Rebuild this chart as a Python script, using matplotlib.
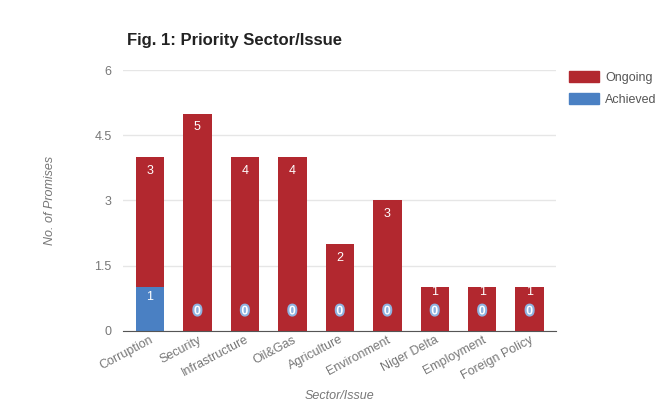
import numpy as np
import matplotlib.pyplot as plt
import matplotlib.patheffects as pe
from matplotlib.patches import Patch

plt.rcParams['font.family'] = ['Liberation Sans', 'DejaVu Sans']

sectors = ['Corruption', 'Security', 'Infrastructure', 'Oil&Gas', 'Agriculture',
           'Environment', 'Niger Delta', 'Employment', 'Foreign Policy']
achieved = [1, 0, 0, 0, 0, 0, 0, 0, 0]
ongoing = [3, 5, 4, 4, 2, 3, 1, 1, 1]

red = '#b2282f'
blue = '#4a80c3'
grey = '#777777'

fig = plt.figure(figsize=(6.68, 4.12), dpi=100)
ax = fig.add_axes([0.184, 0.197, 0.648, 0.633])

x = np.arange(len(sectors))
ax.bar(x, achieved, width=0.6, color=blue, zorder=2)
ax.bar(x, ongoing, width=0.6, bottom=achieved, color=red, zorder=2)

ax.set_xlim(-0.57, 8.55)
ax.set_ylim(0, 6)
ax.set_yticks([0, 1.5, 3, 4.5, 6])
ax.set_yticklabels(['0', '1.5', '3', '4.5', '6'])
ax.grid(axis='y', color='#e6e6e6', lw=1, zorder=0)
for s in ['top', 'right', 'left']:
    ax.spines[s].set_visible(False)
ax.spines['bottom'].set_color('#555555')
ax.tick_params(axis='y', length=0, colors=grey, labelsize=9, pad=8)
ax.tick_params(axis='x', length=0, colors=grey, labelsize=9, pad=2)
ax.set_xticks(x)
ax.set_xticklabels(sectors, rotation=28, ha='right', rotation_mode='anchor')

# value labels
for i in x:
    top = achieved[i] + ongoing[i]
    off = -10 if (ongoing[i] > 1 or achieved[i] > 0) else -3
    ax.annotate(str(ongoing[i]), (i, top), xytext=(0, off), textcoords='offset points',
                ha='center', va='center', color='white', fontsize=9, zorder=4)
    if achieved[i] > 0:
        ax.annotate(str(achieved[i]), (i, achieved[i]), xytext=(0, -7), textcoords='offset points',
                    ha='center', va='center', color='white', fontsize=9, zorder=4)
    else:
        ax.annotate('0', (i, 0), xytext=(0, 14), textcoords='offset points',
                    ha='center', va='center', color='white', fontsize=9, zorder=4,
                    fontweight='bold',
                    path_effects=[pe.withStroke(linewidth=3, foreground='#8fb3e0')])

ax.set_ylabel('No. of Promises', style='italic', color=grey, fontsize=9, labelpad=28)
ax.set_xlabel('Sector/Issue', style='italic', color=grey, fontsize=9, labelpad=6)
fig.text(0.19, 0.89, 'Fig. 1: Priority Sector/Issue', fontsize=12, fontweight='bold', color='#222222')

handles = [Patch(color=red), Patch(color=blue)]
fig.legend(handles, ['Ongoing', 'Achieved'], loc='upper left', bbox_to_anchor=(0.835, 0.855),
           frameon=False, fontsize=9, labelcolor='#555555', handlelength=2.4, handleheight=1.0,
           handletextpad=0.5, labelspacing=0.75)

fig.savefig('out.png', dpi=100, facecolor='white')
